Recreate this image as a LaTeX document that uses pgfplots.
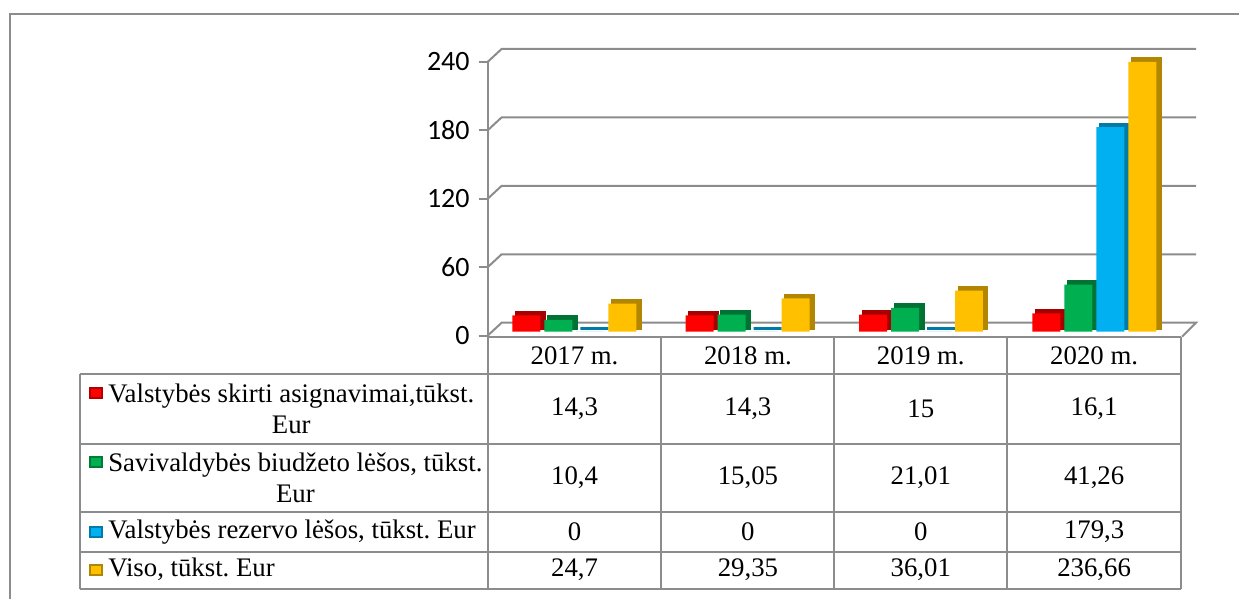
\documentclass[border=0pt]{standalone}
\usepackage{pgfplots}
\pgfplotsset{compat=1.18}
\usepackage{pgfplotstable}
\usepackage{fontspec}
\setmainfont{Liberation Serif}
\newfontfamily\tickfont{Carlito}
\definecolor{cRed}{HTML}{FF0000}
\definecolor{cGreen}{HTML}{00B050}
\definecolor{cBlue}{HTML}{00B0F0}
\definecolor{cYellow}{HTML}{FFC000}
\definecolor{cGrid}{HTML}{8C8C8C}

% tūkst. Eur by year (0 = 2017 ... 3 = 2020)
\pgfplotstableread{
x  val   sav    rez    viso
0  14.3  10.4   0      24.7
1  14.3  15.05  0      29.35
2  15    21.01  0      36.01
3  16.1  41.26  179.3  236.66
}\budget

\newcommand{\tabfont}{\fontsize{13.4bp}{15.5bp}\selectfont}
\newcommand{\key}[3]{% x y colour
  \fill[#3!70!black] (#1,#2-6) rectangle (#1+14,#2+6);
  \fill[#3] (#1+2,#2-4) rectangle (#1+12,#2+4);}

\begin{document}
\frenchspacing
\begin{tikzpicture}
\begin{scope}[x=0.5bp,y=-0.5bp]
  \path (0,0) rectangle (1240,599);
  \draw[cGrid, line width=1bp] (10,599) -- (10,14) -- (1240,14);
  % back wall grid
  \foreach \Y in {62,130.5,199,267.5}
    \draw[cGrid, line width=1bp] (488,\Y) -- (502,\Y-13) -- (1197,\Y-13);
  \draw[cGrid, line width=1bp] (488,336) -- (502,323) -- (1197,323) -- (1183,337);
\end{scope}

\begin{axis}[
    at={(244bp,-168bp)}, anchor=south west,
    scale only axis, width=347bp, height=137bp,
    xmin=-0.5, xmax=3.5, ymin=0, ymax=240,
    axis x line=none, axis y line*=left,
    ytick={0,60,...,240},
    tick align=outside, major tick length=4.5bp,
    axis line style={cGrid, line width=1bp, -},
    tick style={cGrid, line width=1bp},
    yticklabel style={font=\tickfont\fontsize{14bp}{16bp}\selectfont, xshift=-1bp},
    /pgf/number format/assume math mode=true,
    ybar, bar width=14bp, clip=false,
  ]
  % side/top faces (shifted darker copies)
  \addplot[bar shift=-24bp, fill=cRed!65!black, draw=cRed!65!black, line width=1.5bp, xshift=2bp, yshift=3.5bp] table[x=x,y=val]{\budget};
  \addplot[bar shift=-24bp, fill=cRed, draw=none, yshift=2bp] table[x=x,y=val]{\budget};
  \addplot[bar shift=-8bp, fill=cGreen!65!black, draw=cGreen!65!black, line width=1.5bp, xshift=2bp, yshift=3.5bp] table[x=x,y=sav]{\budget};
  \addplot[bar shift=-8bp, fill=cGreen, draw=none, yshift=2bp] table[x=x,y=sav]{\budget};
  \addplot[bar shift=8bp, fill=cBlue!70!black, draw=cBlue!70!black, line width=1.5bp, xshift=2bp, yshift=3.5bp] table[x=x,y=rez]{\budget};
  \addplot[bar shift=8bp, fill=cBlue, draw=none, yshift=2bp] table[x=x,y=rez]{\budget};
  \addplot[bar shift=24bp, fill=cYellow!70!black, draw=cYellow!70!black, line width=1.5bp, xshift=2bp, yshift=3.5bp] table[x=x,y=viso]{\budget};
  \addplot[bar shift=24bp, fill=cYellow, draw=none, yshift=2bp] table[x=x,y=viso]{\budget};
\end{axis}

\begin{scope}[x=0.5bp,y=-0.5bp]
  % data table
  \draw[cGrid, line width=1bp] (488,337) -- (1182,337);
  \foreach \Y in {374,444,512,552,589}
    \draw[cGrid, line width=1bp] (80,\Y) -- (1182,\Y);
  \draw[cGrid, line width=1bp] (80,374) -- (80,589);
  \draw[cGrid, line width=1bp] (488,336) -- (488,589);
  \foreach \X in {662,835,1008,1182}
    \draw[cGrid, line width=1bp] (\X,337) -- (\X,589);
  \foreach \X/\T in {575/2017 m.,748.5/2018 m.,921.5/2019 m.,1095/2020 m.}
    \node[font=\tabfont] at (\X,356) {\T};
  \foreach \X/\a/\b/\c/\d in {575/{14,3}/{10,4}/0/{24,7}, 748.5/{14,3}/{15,05}/0/{29,35},
      921.5/15/{21,01}/0/{36,01}, 1095/{16,1}/{41,26}/{179,3}/{236,66}} {
    \node[font=\tabfont] at (\X,409) {\a};
    \node[font=\tabfont] at (\X,478) {\b};
    \node[font=\tabfont] at (\X,532) {\c};
    \node[font=\tabfont] at (\X,570) {\d};
  }
  \node[font=\tabfont, align=center, anchor=west, inner sep=0pt] at (108,409) {Valstybės skirti asignavimai,tūkst.\\Eur};
  \node[font=\tabfont, align=center, anchor=west, inner sep=0pt] at (108,478) {Savivaldybės biudžeto lėšos, tūkst.\\Eur};
  \node[font=\tabfont, anchor=west, inner sep=0pt] at (108,532) {Valstybės rezervo lėšos, tūkst. Eur};
  \node[font=\tabfont, anchor=west, inner sep=0pt] at (108,570) {Viso, tūkst. Eur};
  \key{89}{393}{cRed}
  \key{89}{462}{cGreen}
  \key{89}{532}{cBlue}
  \key{89}{570}{cYellow}
\end{scope}
\end{tikzpicture}
\end{document}
